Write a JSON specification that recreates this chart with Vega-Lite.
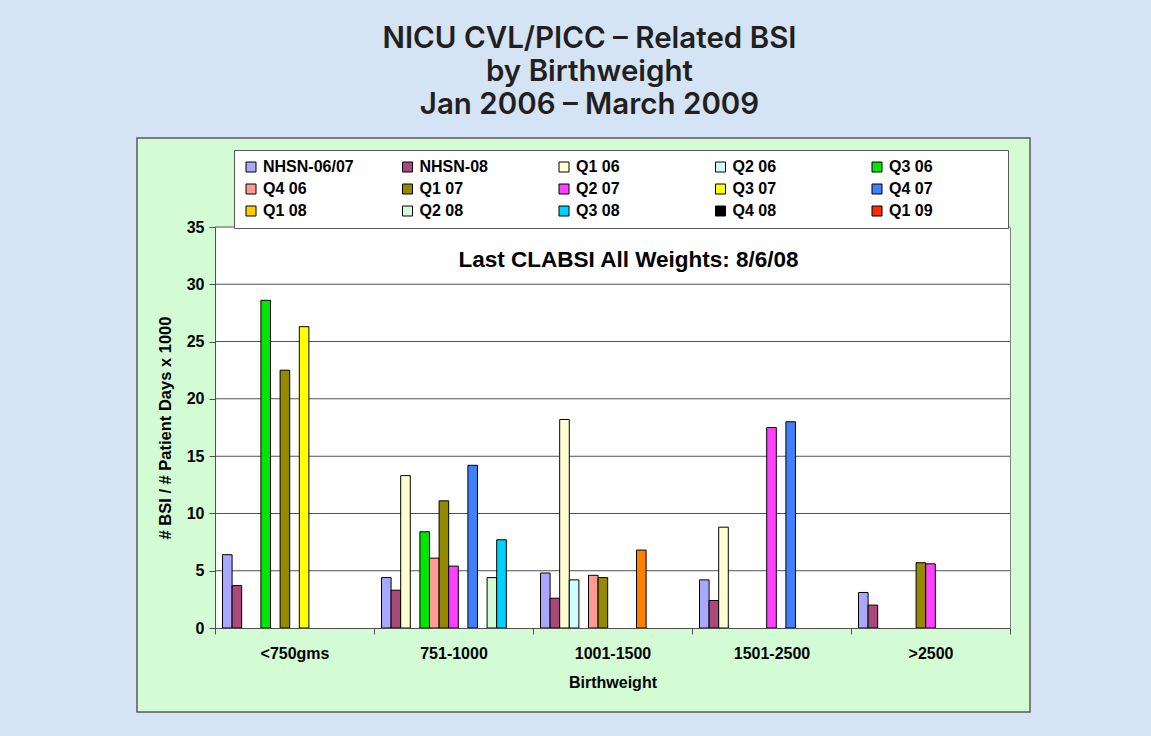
{
  "$schema": "https://vega.github.io/schema/vega-lite/v6.json",
  "width": 893,
  "height": 574,
  "autosize": {"type": "none"},
  "padding": {"left": 137, "top": 138, "right": 121, "bottom": 24},
  "background": "#d4e4f4",
  "title": {
    "text": ["NICU CVL/PICC – Related BSI", "by Birthweight", "Jan 2006 – March 2009"],
    "font": "Inter",
    "fontSize": 29.5,
    "fontWeight": 600,
    "color": "#231f20",
    "lineHeight": 33,
    "anchor": "middle",
    "frame": "group",
    "dx": 6,
    "offset": 18
  },
  "datasets": {
    "cats": [
      {"cat": "<750gms"}, {"cat": "751-1000"}, {"cat": "1001-1500"}, {"cat": "1501-2500"}, {"cat": ">2500"}
    ],
    "grid": [
      {"g": 5}, {"g": 10}, {"g": 15}, {"g": 20}, {"g": 25}, {"g": 30}, {"g": 35}
    ],
    "note": [
      {"note": "Last CLABSI All Weights: 8/6/08"}
    ],
    "bsi": [
      {"cat": "<750gms", "series": "NHSN-06/07", "value": 6.4},
      {"cat": "<750gms", "series": "NHSN-08", "value": 3.7},
      {"cat": "<750gms", "series": "Q3 06", "value": 28.6},
      {"cat": "<750gms", "series": "Q1 07", "value": 22.5},
      {"cat": "<750gms", "series": "Q3 07", "value": 26.3},
      {"cat": "751-1000", "series": "NHSN-06/07", "value": 4.4},
      {"cat": "751-1000", "series": "NHSN-08", "value": 3.3},
      {"cat": "751-1000", "series": "Q1 06", "value": 13.3},
      {"cat": "751-1000", "series": "Q3 06", "value": 8.4},
      {"cat": "751-1000", "series": "Q4 06", "value": 6.1},
      {"cat": "751-1000", "series": "Q1 07", "value": 11.1},
      {"cat": "751-1000", "series": "Q2 07", "value": 5.4},
      {"cat": "751-1000", "series": "Q4 07", "value": 14.2},
      {"cat": "751-1000", "series": "Q2 08", "value": 4.4},
      {"cat": "751-1000", "series": "Q3 08", "value": 7.7},
      {"cat": "1001-1500", "series": "NHSN-06/07", "value": 4.8},
      {"cat": "1001-1500", "series": "NHSN-08", "value": 2.6},
      {"cat": "1001-1500", "series": "Q1 06", "value": 18.2},
      {"cat": "1001-1500", "series": "Q2 06", "value": 4.2},
      {"cat": "1001-1500", "series": "Q4 06", "value": 4.6},
      {"cat": "1001-1500", "series": "Q1 07", "value": 4.4},
      {"cat": "1001-1500", "series": "Q1 08", "value": 6.8},
      {"cat": "1501-2500", "series": "NHSN-06/07", "value": 4.2},
      {"cat": "1501-2500", "series": "NHSN-08", "value": 2.4},
      {"cat": "1501-2500", "series": "Q1 06", "value": 8.8},
      {"cat": "1501-2500", "series": "Q2 07", "value": 17.5},
      {"cat": "1501-2500", "series": "Q4 07", "value": 18.0},
      {"cat": ">2500", "series": "NHSN-06/07", "value": 3.1},
      {"cat": ">2500", "series": "NHSN-08", "value": 2.0},
      {"cat": ">2500", "series": "Q1 07", "value": 5.7},
      {"cat": ">2500", "series": "Q2 07", "value": 5.6}
    ]
  },
  "layer": [
    {
      "data": {"name": "cats"},
      "mark": {"type": "bar", "color": "#ffffff", "strokeWidth": 0},
      "encoding": {
        "x": {
          "field": "cat", "type": "nominal", "sort": null,
          "scale": {"type": "band", "domain": ["<750gms", "751-1000", "1001-1500", "1501-2500", ">2500"], "range": [78, 873], "paddingInner": 0, "paddingOuter": 0},
          "axis": {"title": "Birthweight", "orient": "bottom", "offset": -84, "labelAngle": 0, "tickBand": "extent", "tickSize": 6, "labelPadding": 11, "titlePadding": 13, "grid": false, "zindex": 1}
        },
        "y": {
          "datum": 35, "type": "quantitative",
          "scale": {"domain": [0, 35], "range": [490, 89], "nice": false, "zero": false},
          "axis": {"orient": "left", "offset": -78, "values": [0, 5, 10, 15, 20, 25, 30, 35], "title": "# BSI / # Patient Days x 1000", "titleFontSize": 16.5, "grid": false, "tickSize": 6, "labelPadding": 5, "titlePadding": 13, "zindex": 1}
        },
        "y2": {"datum": 0}
      }
    },
    {
      "data": {"name": "grid"},
      "mark": {"type": "tick", "size": 795, "thickness": 1, "color": "#505050", "opacity": 1},
      "encoding": {
        "x": {
          "datum": "1001-1500", "type": "nominal",
          "scale": {"type": "band", "domain": ["<750gms", "751-1000", "1001-1500", "1501-2500", ">2500"], "range": [78, 873], "paddingInner": 0, "paddingOuter": 0},
          "axis": {"title": "Birthweight", "orient": "bottom", "offset": -84, "labelAngle": 0, "tickBand": "extent", "tickSize": 6, "labelPadding": 11, "titlePadding": 13, "grid": false, "zindex": 1}
        },
        "y": {
          "field": "g", "type": "quantitative",
          "scale": {"domain": [0, 35], "range": [490, 89], "nice": false, "zero": false},
          "axis": null
        }
      }
    },
    {
      "data": {"name": "bsi"},
      "mark": {"type": "bar", "stroke": "#000000", "strokeWidth": 1},
      "encoding": {
        "x": {
          "field": "cat", "type": "nominal", "sort": null,
          "scale": {"type": "band", "domain": ["<750gms", "751-1000", "1001-1500", "1501-2500", ">2500"], "range": [78, 873], "paddingInner": 0, "paddingOuter": 0},
          "axis": {"title": "Birthweight", "orient": "bottom", "offset": -84, "labelAngle": 0, "tickBand": "extent", "tickSize": 6, "labelPadding": 11, "titlePadding": 13, "grid": false, "zindex": 1}
        },
        "xOffset": {
          "field": "series", "type": "nominal",
          "scale": {"domain": ["NHSN-06/07", "NHSN-08", "Q1 06", "Q2 06", "Q3 06", "Q4 06", "Q1 07", "Q2 07", "Q3 07", "Q4 07", "Q1 08", "Q2 08", "Q3 08", "Q4 08", "Q1 09"], "paddingInner": 0, "paddingOuter": 0.78}
        },
        "y": {
          "field": "value", "type": "quantitative",
          "scale": {"domain": [0, 35], "range": [490, 89], "nice": false, "zero": false},
          "axis": {"orient": "right", "offset": -20, "labels": false, "ticks": false, "title": null, "grid": false, "domainColor": "#808080", "zindex": 1}
        },
        "color": {
          "field": "series", "type": "nominal",
          "condition": {"test": "datum.series === 'Q1 08'", "value": "#ff7f00"},
          "scale": {
            "domain": ["NHSN-06/07", "NHSN-08", "Q1 06", "Q2 06", "Q3 06", "Q4 06", "Q1 07", "Q2 07", "Q3 07", "Q4 07", "Q1 08", "Q2 08", "Q3 08", "Q4 08", "Q1 09"],
            "range": ["#a8a8ff", "#a8497a", "#ffffd2", "#d0ffff", "#00e600", "#ff9a94", "#948a00", "#ff40ff", "#ffff00", "#4080ff", "#ffcc00", "#d6fad6", "#00d2ff", "#000000", "#ff2a00"]
          },
          "legend": {
            "orient": "none", "legendX": 97, "legendY": 12,
            "columns": 5, "direction": "horizontal",
            "title": " ", "titleOrient": "right", "titleFontSize": 1, "titlePadding": 66,
            "fillColor": "#ffffff", "strokeColor": "#5a5a5a", "padding": 9,
            "symbolType": "square", "symbolSize": 100, "symbolStrokeColor": "#000000", "symbolStrokeWidth": 1, "symbolOpacity": 1,
            "labelFont": "Liberation Sans", "labelFontWeight": "bold", "labelFontSize": 16, "labelColor": "#000000",
            "labelOffset": 4, "columnPadding": 45.5, "rowPadding": 6, "gridAlign": "all", "labelLimit": 0
          }
        }
      }
    },
    {
      "data": {"name": "note"},
      "mark": {"type": "text", "font": "Liberation Sans", "fontWeight": "bold", "fontSize": 22.5, "color": "#000000", "baseline": "alphabetic", "align": "center", "dx": 16},
      "encoding": {
        "x": {
          "datum": "1001-1500", "type": "nominal",
          "scale": {"type": "band", "domain": ["<750gms", "751-1000", "1001-1500", "1501-2500", ">2500"], "range": [78, 873], "paddingInner": 0, "paddingOuter": 0},
          "axis": {"title": "Birthweight", "orient": "bottom", "offset": -84, "labelAngle": 0, "tickBand": "extent", "tickSize": 6, "labelPadding": 11, "titlePadding": 13, "grid": false, "zindex": 1}
        },
        "y": {
          "datum": 31.5, "type": "quantitative",
          "scale": {"domain": [0, 35], "range": [490, 89], "nice": false, "zero": false},
          "axis": null
        },
        "text": {"field": "note", "type": "nominal"}
      }
    }
  ],
  "resolve": {"axis": {"y": "independent"}},
  "config": {
    "view": {"fill": "#d4fcd4", "stroke": "#5a5a5a", "strokeWidth": 1.5},
    "axis": {
      "labelFont": "Liberation Sans", "labelFontWeight": "bold", "labelFontSize": 16, "labelColor": "#000000",
      "titleFont": "Liberation Sans", "titleFontWeight": "bold", "titleFontSize": 16, "titleColor": "#000000",
      "domainColor": "#505050", "tickColor": "#505050", "domainWidth": 1, "tickWidth": 1
    }
  }
}
